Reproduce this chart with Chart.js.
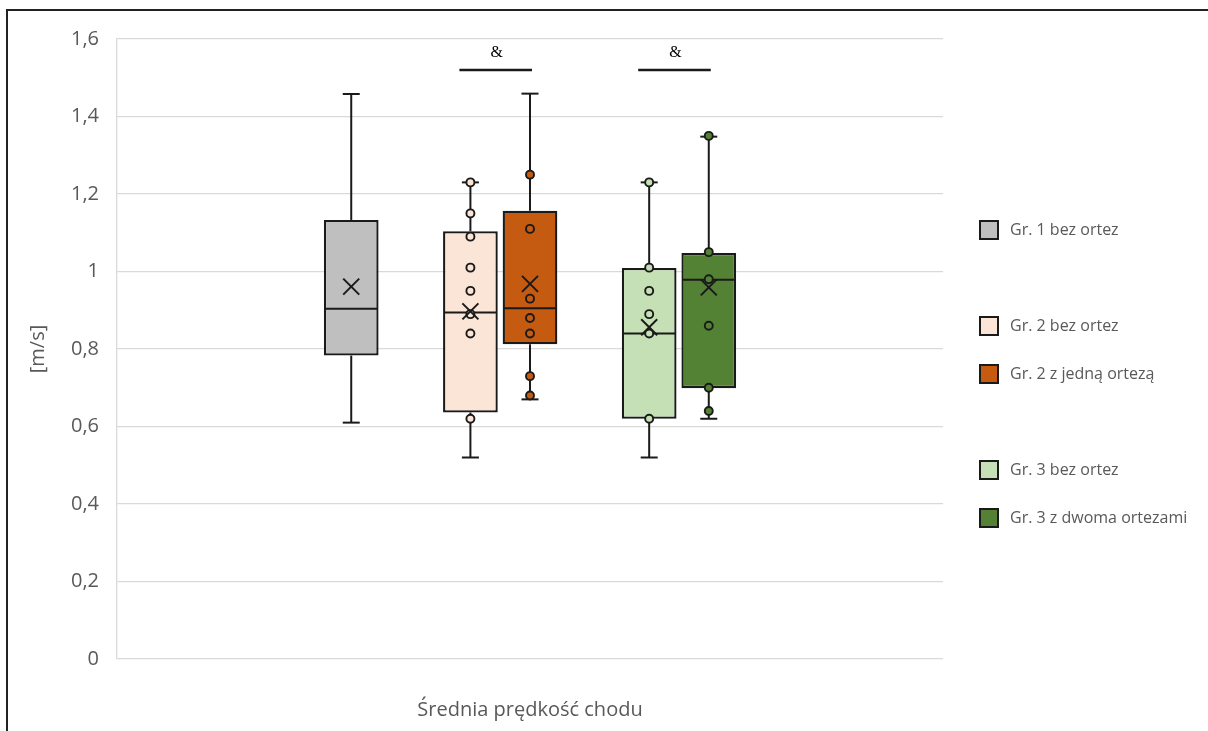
<!DOCTYPE html>
<html lang="pl">
<head>
    <meta charset="UTF-8">
    <title>Średnia prędkość chodu</title>
    <script src="https://cdn.jsdelivr.net/npm/chart.js"></script>
    <style>
        body {
            margin: 0;
            background: #ffffff;
        }

        .chart-wrap {
            position: relative;
            width: 1208px;
            height: 731px;
            overflow: hidden;
        }

        .frame {
            position: absolute;
            left: 6px;
            top: 9px;
            width: 1220px;
            height: 740px;
            border-left: 2px solid #222;
            border-top: 2px solid #222;
            pointer-events: none;
        }
    </style>
</head>
<body>
    <div class="chart-wrap">
        <canvas id="walkChart"></canvas>
        <div class="frame"></div>
    </div>

    <script>
        // one category, seven slots (two empty ones separate the groups)
        var categoryLabels = ['Średnia prędkość chodu'];
        var seriesLabels = ['Gr. 1 bez ortez', '', 'Gr. 2 bez ortez', 'Gr. 2 z jedną ortezą', '', 'Gr. 3 bez ortez', 'Gr. 3 z dwoma ortezami'];
        var fillColors = ['#bfbfbf', null, '#fbe5d6', '#c55a11', null, '#c5e0b4', '#548235'];

        // box statistics [m/s]
        var minVals    = [0.61,  null, 0.52,  0.67,  null, 0.52,  0.62];
        var q1Vals     = [0.783, null, 0.636, 0.812, null, 0.62,  0.699];
        var medianVals = [0.904, null, 0.894, 0.905, null, 0.84,  0.979];
        var q3Vals     = [1.133, null, 1.104, 1.157, null, 1.009, 1.048];
        var maxVals    = [1.458, null, 1.23,  1.459, null, 1.23,  1.348];
        var meanVals   = [0.961, null, 0.897, 0.968, null, 0.856, 0.959];

        // individual values shown as dots
        var pointVals = [
            [],
            [],
            [1.23, 1.15, 1.09, 1.01, 0.95, 0.89, 0.84, 0.62],
            [1.25, 1.11, 0.93, 0.88, 0.84, 0.73, 0.68],
            [],
            [1.23, 1.01, 0.95, 0.89, 0.84, 0.62],
            [1.35, 1.05, 0.98, 0.86, 0.70, 0.64]
        ];

        // significance bars between paired series
        var sigPairs = [[2, 3], [5, 6]];
        var sigLevel = 1.52;
        var sigMark = '&';

        var yTicks = [0, 0.2, 0.4, 0.6, 0.8, 1, 1.2, 1.4, 1.6];

        var datasets = seriesLabels.map(function (label, i) {
            return {
                label: label,
                data: [q1Vals[i] == null ? null : [q1Vals[i], q3Vals[i]]],
                backgroundColor: fillColors[i] || 'rgba(0,0,0,0)',
                borderColor: '#1a1a1a',
                borderWidth: 2.3,
                borderSkipped: false,
                categoryPercentage: 0.505,
                barPercentage: 0.918
            };
        });

        function strokeLine(ctx, x1, y1, x2, y2) {
            ctx.beginPath();
            ctx.moveTo(x1, y1);
            ctx.lineTo(x2, y2);
            ctx.stroke();
        }

        // whiskers, medians, dots and mean markers on top of the bars
        var boxDetails = {
            id: 'boxDetails',
            afterDatasetsDraw: function (chart) {
                var ctx = chart.ctx;
                var y = chart.scales.y;
                ctx.save();
                ctx.strokeStyle = '#1a1a1a';
                chart.data.datasets.forEach(function (ds, i) {
                    if (q1Vals[i] == null) return;
                    var bar = chart.getDatasetMeta(i).data[0];
                    var x = bar.x;
                    var half = bar.width / 2;
                    var pMin = y.getPixelForValue(minVals[i]);
                    var pMax = y.getPixelForValue(maxVals[i]);
                    var pQ1 = y.getPixelForValue(q1Vals[i]);
                    var pQ3 = y.getPixelForValue(q3Vals[i]);
                    var pMed = y.getPixelForValue(medianVals[i]);

                    ctx.lineWidth = 2;
                    strokeLine(ctx, x, pQ3, x, pMax);
                    strokeLine(ctx, x, pQ1, x, pMin);
                    strokeLine(ctx, x - 8.5, pMax, x + 8.5, pMax);
                    strokeLine(ctx, x - 8.5, pMin, x + 8.5, pMin);
                    strokeLine(ctx, x - half + 1, pMed, x + half - 1, pMed);

                    ctx.lineWidth = 1.9;
                    ctx.fillStyle = fillColors[i];
                    pointVals[i].forEach(function (v) {
                        ctx.beginPath();
                        ctx.arc(x, y.getPixelForValue(v), 4, 0, Math.PI * 2);
                        ctx.fill();
                        ctx.stroke();
                    });

                    var pMean = y.getPixelForValue(meanVals[i]);
                    ctx.lineWidth = 2;
                    strokeLine(ctx, x - 8, pMean - 8, x + 8, pMean + 8);
                    strokeLine(ctx, x - 8, pMean + 8, x + 8, pMean - 8);
                });

                // "&" bars
                var py = y.getPixelForValue(sigLevel);
                ctx.lineWidth = 2.6;
                ctx.fillStyle = '#000';
                ctx.font = '16px "Liberation Serif"';
                ctx.textAlign = 'center';
                ctx.textBaseline = 'middle';
                sigPairs.forEach(function (pair) {
                    var xa = chart.getDatasetMeta(pair[0]).data[0].x - 11;
                    var xb = chart.getDatasetMeta(pair[1]).data[0].x + 2;
                    strokeLine(ctx, xa, py, xb, py);
                    ctx.fillText(sigMark, (xa + xb) / 2 + 1, py - 17);
                });
                ctx.restore();
            },
            // legend on the right, empty slots keep their row
            afterDraw: function (chart) {
                var ctx = chart.ctx;
                ctx.save();
                ctx.font = '16px "Open Sans"';
                ctx.textBaseline = 'middle';
                ctx.textAlign = 'left';
                seriesLabels.forEach(function (label, i) {
                    if (!label) return;
                    var cy = 230 + i * 48;
                    ctx.fillStyle = fillColors[i];
                    ctx.fillRect(980, cy - 9, 18, 18);
                    ctx.strokeStyle = '#1a1a1a';
                    ctx.lineWidth = 2;
                    ctx.strokeRect(980, cy - 9, 18, 18);
                    ctx.fillStyle = '#595959';
                    ctx.fillText(label, 1010, cy);
                });
                ctx.restore();
            }
        };

        var ctx = document.getElementById('walkChart').getContext('2d');
        var walkChart = new Chart(ctx, {
            type: 'bar',
            data: {
                labels: categoryLabels,
                datasets: datasets
            },
            options: {
                responsive: true,
                maintainAspectRatio: false,
                animation: false,
                layout: {
                    padding: { left: 0, right: 265, top: 39, bottom: 0 }
                },
                plugins: {
                    legend: { display: false },
                    tooltip: { enabled: false }
                },
                scales: {
                    x: {
                        grid: { display: false },
                        border: { display: false },
                        ticks: {
                            color: '#595959',
                            font: { family: 'Open Sans', size: 20 },
                            padding: 31
                        },
                        afterFit: function (scale) { scale.height = 72; }
                    },
                    y: {
                        min: 0,
                        max: 1.6,
                        afterBuildTicks: function (scale) {
                            scale.ticks = yTicks.map(function (v) { return { value: v }; });
                        },
                        grid: { color: '#d9d9d9', lineWidth: 1.3, drawTicks: false },
                        border: { color: '#d9d9d9', width: 1.3 },
                        ticks: {
                            color: '#595959',
                            font: { family: 'Open Sans', size: 20 },
                            padding: 18,
                            callback: function (value) {
                                return String(Number(value.toFixed(1))).replace('.', ',');
                            }
                        },
                        title: {
                            display: true,
                            text: '[m/s]',
                            color: '#595959',
                            font: { family: 'Open Sans', size: 20 },
                            padding: { top: 26, bottom: 0 }
                        },
                        afterFit: function (scale) { scale.width = 117; }
                    }
                }
            },
            plugins: [boxDetails]
        });
    </script>
</body>
</html>
